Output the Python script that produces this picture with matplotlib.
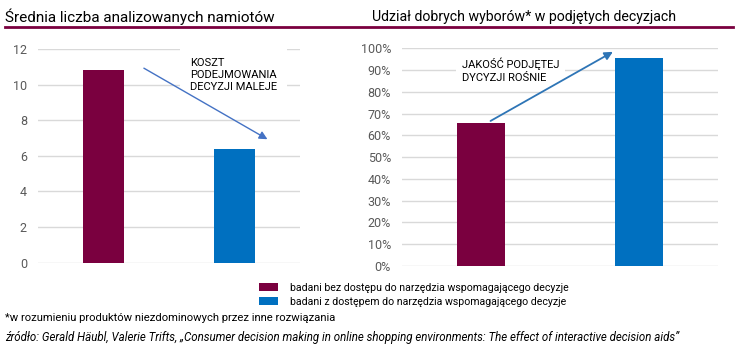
import matplotlib.pyplot as plt
from matplotlib.ticker import PercentFormatter

plt.rcParams['font.family'] = ['Roboto', 'DejaVu Sans']

# data
groups = ["badani bez dostępu do narzędzia wspomagającego decyzje",
          "badani z dostępem do narzędzia wspomagającego decyzje"]
colors = ["#7A003F", "#0070C0"]
tents = [10.8, 6.4]
good_choices = [0.655, 0.957]

left_title = "Średnia liczba analizowanych namiotów"
right_title = "Udział dobrych wyborów* w podjętych decyzjach"
footnote = "*w rozumieniu produktów niezdominowych przez inne rozwiązania"
source = "źródło: Gerald Häubl, Valerie Trifts, „Consumer decision making in online shopping environments: The effect of interactive decision aids”"

W, H = 736, 359
fig = plt.figure(figsize=(W / 100, H / 100), dpi=100)


def box(x0, x1, ytop, ybot):
    return [x0 / W, 1 - ybot / H, (x1 - x0) / W, (ybot - ytop) / H]


def style(ax):
    for s in ax.spines.values():
        s.set_visible(False)
    ax.set_xticks([])
    ax.tick_params(axis='y', length=0, labelsize=9, labelcolor="#595959", pad=8)
    ax.grid(axis='y', color="#d9d9d9", linewidth=1)
    ax.set_axisbelow(True)
    ax.set_xlim(-0.5, 1.5)


# left chart
ax1 = fig.add_axes(box(38, 300, 49, 262.5))
for i, v in enumerate(tents):
    ax1.bar(i, v, width=0.31, color=colors[i], label=groups[i], zorder=2)
ax1.set_ylim(0, 12)
ax1.set_yticks(range(0, 13, 2))
style(ax1)
ax1.text(0.66, 11.5, "KOSZT\nPODEJMOWANIA\nDECYZJI MALEJE", fontsize=8, va='top',
         ha='left', linespacing=1.25, zorder=3,
         bbox=dict(facecolor='white', edgecolor='none', pad=7))
ax1.annotate("", xy=(1.27, 6.85), xytext=(0.29, 11.0),
             arrowprops=dict(arrowstyle='-|>', color="#4472C4", lw=1,
                             mutation_scale=12), zorder=4)

# right chart
ax2 = fig.add_axes(box(402, 718, 48.3, 266))
for i, v in enumerate(good_choices):
    ax2.bar(i, v, width=0.31, color=colors[i], zorder=2)
ax2.set_ylim(0, 1)
ax2.set_yticks([i / 10 for i in range(11)])
ax2.yaxis.set_major_formatter(PercentFormatter(1, decimals=0))
style(ax2)
ax2.text(-0.12, 0.957, "JAKOŚĆ PODJĘTEJ\nDYCYZJI ROŚNIE", fontsize=8, va='top',
         ha='left', linespacing=1.3, zorder=3,
         bbox=dict(facecolor='white', edgecolor='none', pad=4))
ax2.annotate("", xy=(0.85, 0.99), xytext=(0.045, 0.66),
             arrowprops=dict(arrowstyle='-|>', color="#2E75B6", lw=1.3,
                             mutation_scale=12), zorder=4)

# titles with underline
fig.text(5 / W, 1 - 17 / H, left_title, fontsize=11, va='center', ha='left')
fig.text(372 / W, 1 - 17 / H, right_title, fontsize=10.2, va='center', ha='left')
fig.add_artist(plt.Line2D([5 / W, 733 / W], [1 - 26.5 / H, 1 - 26.5 / H],
                          color="#7A003F", linewidth=2))

# legend
fig.legend(loc='upper left', bbox_to_anchor=(259 / W, 1 - 283 / H), frameon=False,
           fontsize=7.6, handlelength=1.8, handleheight=0.75, handletextpad=1.1,
           labelspacing=0.35, borderpad=0, borderaxespad=0)

fig.text(5 / W, 1 - 318 / H, footnote, fontsize=8.1, va='center', ha='left')
fig.text(5 / W, 1 - 338 / H, source, fontsize=8.3, style='italic', va='center', ha='left')

plt.savefig("out.png", dpi=100)
plt.close()
